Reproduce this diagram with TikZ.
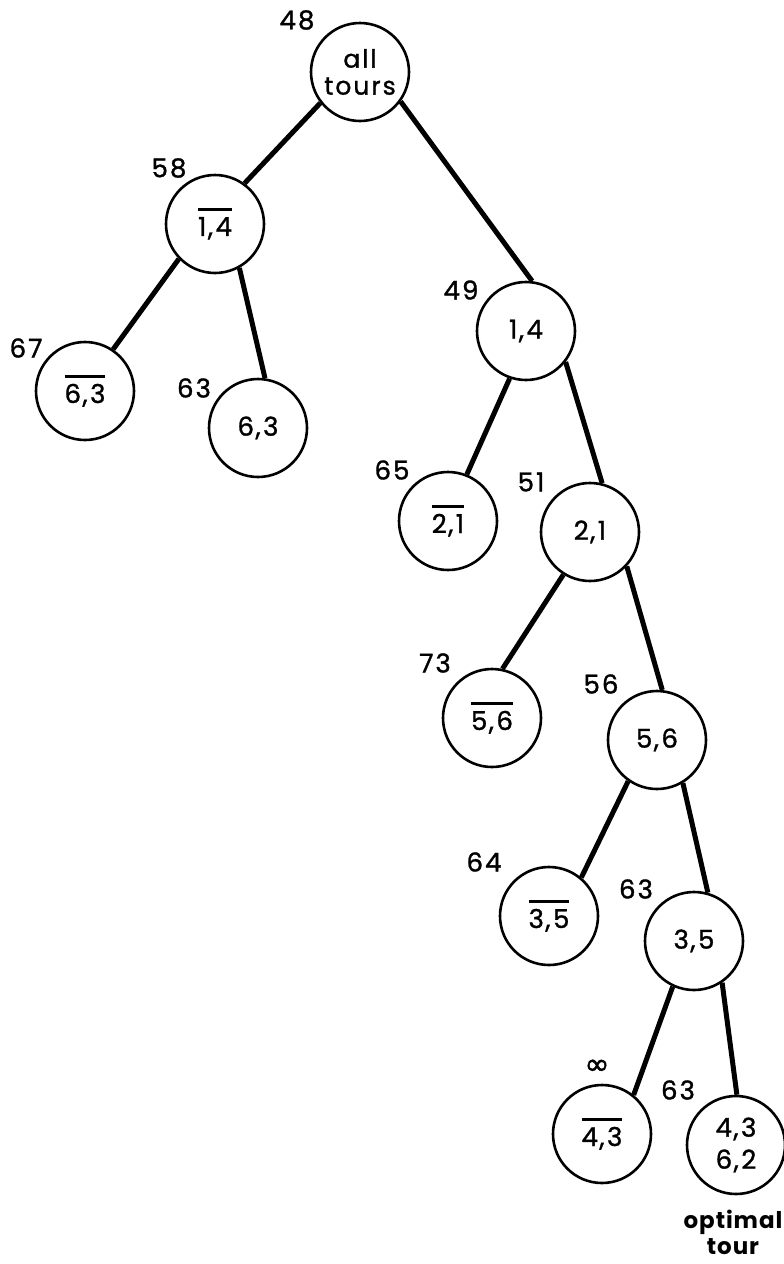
\documentclass[tikz,border=0pt]{standalone}
\usepackage{fontspec}
\setmainfont[LetterSpace=8,FakeBold=1.2]{Poppins}
\newfontfamily\symfont[FakeBold=1.5]{DejaVu Sans}
\newfontfamily\optfont[LetterSpace=4]{Poppins}
\newcommand\ovl[1]{\vbox{\hrule height 2.6pt\kern 6pt\hbox{#1}}}
\newcommand\cma{\kern1.5pt,\kern2.5pt}
\begin{document}
\begin{tikzpicture}[x=1pt,y=-1pt,
  bnode/.style={circle, draw, line width=2.6pt, minimum size=98pt, inner sep=0pt, align=center,
    font=\fontsize{26}{27}\selectfont},
  num/.style={font=\fontsize{26}{28}\selectfont, inner sep=0pt},
  edge/.style={line width=5pt}]
\useasboundingbox (0,0) rectangle (784,1264);
% circles
\node[bnode, font=\fontsize{25}{26}\selectfont] (root) at (360,72) {all\\[1pt]tours};
\node[bnode] (a) at (215,224) {\ovl{1\cma 4}};
\node[bnode] (b) at (85,391) {\ovl{6\cma 3}};
\node[bnode] (c) at (258,428) {6\cma 3};
\node[bnode] (d) at (526,331) {1\cma 4};
\node[bnode] (e) at (448,521) {\ovl{2\cma 1}};
\node[bnode] (f) at (590,532) {2\cma 1};
\node[bnode] (g) at (492,718) {\ovl{5\cma 6}};
\node[bnode] (h) at (657,740) {5\cma 6};
\node[bnode] (i) at (549,916) {\ovl{3\cma 5}};
\node[bnode] (j) at (694,941) {3\cma 5};
\node[bnode] (k) at (602,1134) {\ovl{4\cma 3}};
\node[bnode, font=\fontsize{26}{32}\selectfont] (l) at (736,1145) {4\cma 3\\6\cma 2};
% bounds
\node[num] (nroot) at (297,20) {48};
\node[num] (na) at (169,168) {58};
\node[num] (nb) at (26,348) {67};
\node[num] (nc) at (194,388) {63};
\node[num] (nd) at (461,290) {49};
\node[num] (ne) at (392,470) {65};
\node[num] (nf) at (531,482) {51};
\node[num] (ng) at (435,663) {73};
\node[num] (nh) at (601,684) {56};
\node[num] (ni) at (484,862) {64};
\node[num] (nj) at (636,889) {63};
\node[num, font=\symfont\fontsize{30}{30}\selectfont] (nk) at (597,1067) {∞};
\node[num] (nl) at (678,1090) {63};
\node[num, font=\optfont\bfseries\fontsize{23}{26}\selectfont, align=center] (opt) at (733,1232) {optimal\\tour};
% edges
\draw[edge] (root.218) -- (a.54);
\draw[edge] (root.-36) -- (d.83);
\draw[edge] (a.224) -- (b.56);
\draw[edge] (a.-61) -- (c.82);
\draw[edge] (d.-109) -- (e.68);
\draw[edge] (d.-38) -- (f.76);
\draw[edge] (f.-122) -- (g.78);
\draw[edge] (f.-43) -- (h.84);
\draw[edge] (h.-125) -- (i.50);
\draw[edge] (h.-59) -- (j.74);
\draw[edge] (j.-115) -- (k.51);
\draw[edge] (j.-56) -- (l.89);
\end{tikzpicture}
\end{document}
